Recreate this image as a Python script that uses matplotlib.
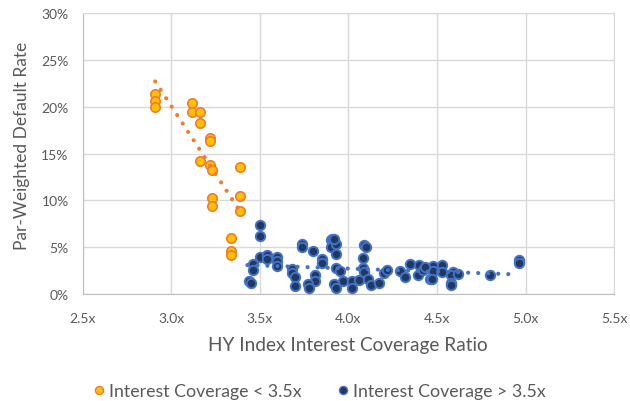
import numpy as np
import matplotlib
matplotlib.use("Agg")
import matplotlib.pyplot as plt
from matplotlib.ticker import FuncFormatter, MultipleLocator
from matplotlib.lines import Line2D

# coverage < 3.5x (ratio, default rate %)
low_x = [2.91, 2.91, 2.91, 3.12, 3.12, 3.16, 3.16, 3.22, 3.22, 3.16,
         3.22, 3.23, 3.39, 3.23, 3.23, 3.39, 3.39, 3.34, 3.34, 3.34]
low_y = [21.4, 20.6, 20.0, 20.4, 19.4, 19.4, 18.3, 16.7, 16.3, 14.2,
         13.8, 13.2, 13.6, 10.3, 9.4, 10.5, 8.9, 6.0, 4.6, 4.2]

# coverage > 3.5x
high_x = [3.50, 3.50, 3.50, 3.54, 3.54, 3.60, 3.60, 3.60, 3.46, 3.46,
          3.44, 3.45, 3.74, 3.74, 3.80, 3.85, 3.85, 3.68, 3.68, 3.70,
          3.70, 3.81, 3.81, 3.77, 3.78, 3.90, 3.91, 3.90, 3.93, 3.93,
          3.92, 3.93, 3.95, 3.97, 4.02, 4.06, 3.93, 4.02, 4.09, 4.10,
          4.08, 4.08, 4.09, 4.11, 4.13, 4.17, 4.20, 4.22, 4.29, 4.35,
          4.40, 4.32, 4.39, 4.46, 4.42, 4.48, 4.48, 4.47, 4.53, 4.53,
          4.59, 4.58, 4.58, 4.58, 4.62, 4.80, 4.96, 4.96, 3.92, 4.43]
high_y = [7.4, 6.2, 4.0, 4.2, 3.7, 4.0, 3.5, 3.0, 3.2, 2.6,
          1.4, 1.2, 5.3, 5.0, 4.6, 3.7, 3.3, 2.7, 2.2, 1.8,
          0.9, 2.0, 1.4, 1.1, 0.6, 5.8, 5.9, 5.0, 5.3, 2.8,
          1.1, 4.3, 2.5, 1.4, 1.4, 1.5, 0.6, 0.7, 5.2, 5.0,
          3.9, 2.8, 2.4, 1.6, 1.0, 1.2, 2.3, 2.6, 2.5, 3.2,
          3.1, 1.8, 2.0, 1.6, 2.6, 3.0, 2.5, 1.6, 3.1, 2.4,
          2.4, 2.0, 1.2, 1.0, 2.1, 2.0, 3.6, 3.3, 5.9, 2.9]

# trendline end points
low_trend_x = [2.91, 3.40]
low_trend_y = [22.7, 8.5]
high_trend_x = [3.43, 4.95]
high_trend_y = [3.1, 2.1]

labels = ["Interest Coverage < 3.5x", "Interest Coverage > 3.5x"]

plt.rcParams['font.family'] = ['Lato', 'DejaVu Sans']
grey = "#595959"
grid_c = "#D9D9D9"

fig = plt.figure(figsize=(6.3, 4.02), dpi=100)
ax = fig.add_axes([0.131, 0.266, 0.844, 0.699])

ax.scatter(low_x, np.array(low_y) / 100, s=46, facecolor="#FFC000",
           edgecolor="#ED7D31", linewidth=1.2, zorder=3)
ax.scatter(high_x, np.array(high_y) / 100, s=46, facecolor="#203864",
           edgecolor="#4472C4", linewidth=1.4, zorder=3)

ax.plot(low_trend_x, np.array(low_trend_y) / 100, color="#ED7D31", lw=3.0,
        linestyle=(0, (0.01, 2.4)), dash_capstyle="round", zorder=4)
ax.plot(high_trend_x, np.array(high_trend_y) / 100, color="#4472C4", lw=3.0,
        linestyle=(0, (0.01, 2.4)), dash_capstyle="round", zorder=4)

ax.set_xlim(2.5, 5.5)
ax.set_ylim(0, 0.30)
ax.xaxis.set_major_locator(MultipleLocator(0.5))
ax.yaxis.set_major_locator(MultipleLocator(0.05))
ax.xaxis.set_major_formatter(FuncFormatter(lambda v, p: f"{v:.1f}x"))
ax.yaxis.set_major_formatter(FuncFormatter(lambda v, p: f"{v*100:.0f}%"))
ax.tick_params(length=0, labelsize=10, labelcolor=grey)
ax.tick_params(axis="x", pad=13)
ax.tick_params(axis="y", pad=10)
ax.grid(True, color=grid_c, lw=1.0, zorder=0)
for s in ax.spines.values():
    s.set_color(grid_c)
ax.spines["left"].set_color("#BFBFBF")
ax.spines["bottom"].set_color("#BFBFBF")
ax.set_axisbelow(True)

fig.text(348 / 630, 1 - 346 / 402, "HY Index Interest Coverage Ratio", ha="center",
         va="center", fontsize=13.7, color=grey)
fig.text(22 / 630, 1 - 146 / 402, "Par-Weighted Default Rate", ha="center",
         va="center", rotation=90, fontsize=12.5, color=grey)

handles = [
    Line2D([], [], marker="o", ls="none", markersize=5.8, markerfacecolor="#FFC000",
           markeredgecolor="#ED7D31", markeredgewidth=1.0),
    Line2D([], [], marker="o", ls="none", markersize=5.8, markerfacecolor="#203864",
           markeredgecolor="#4472C4", markeredgewidth=1.0),
]
fig.legend(handles, labels, loc="center", bbox_to_anchor=(320 / 630, 1 - 392 / 402),
           ncol=2, frameon=False, fontsize=12.8, labelcolor=grey,
           handlelength=0.5, handletextpad=0.3, columnspacing=2.1)

fig.savefig("out.png", dpi=100)
